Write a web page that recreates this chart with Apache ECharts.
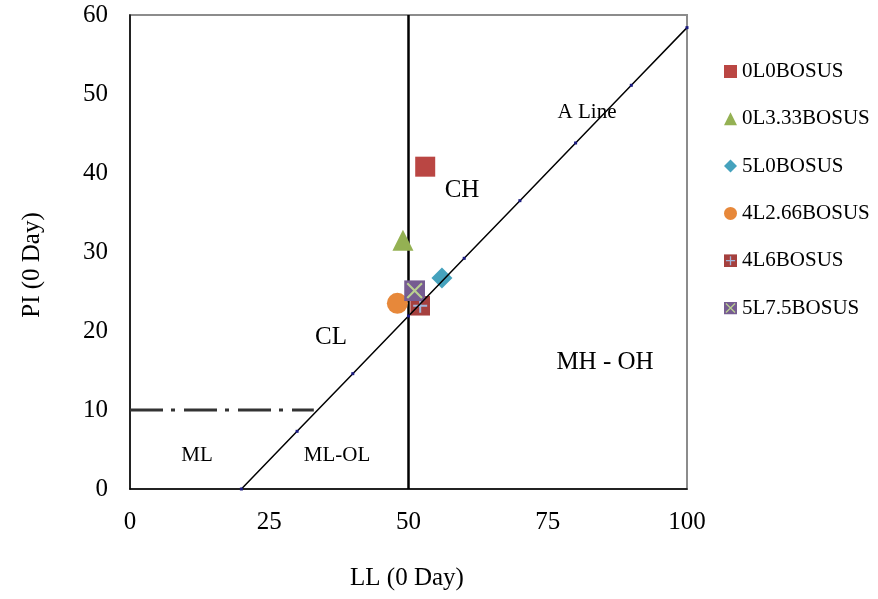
<!DOCTYPE html>
<html>
<head>
<meta charset="utf-8">
<script src="https://cdn.jsdelivr.net/npm/echarts@6/dist/echarts.min.js"></script>
<style>
html,body{margin:0;padding:0;background:#fff;}
#chart{width:878px;height:599px;}
</style>
</head>
<body>
<div id="chart"></div>
<script>
// ---- data ----
const seriesNames = ['0L0BOSUS','0L3.33BOSUS','5L0BOSUS','4L2.66BOSUS','4L6BOSUS','5L7.5BOSUS'];
const llValues = [53.0, 49.0, 56.0, 48.0, 52.1, 51.1];
const piValues = [40.8, 31.5, 26.7, 23.5, 23.2, 25.1];
const aLineLL = [20, 30, 40, 50, 60, 70, 80, 90, 100];
const aLinePI = [0, 7.3, 14.6, 21.9, 29.2, 36.5, 43.8, 51.1, 58.4];
const vLineLL = [50, 50];
const vLinePI = [0, 60];
const hLineLL = [0, 33];
const hLinePI = [10, 10];
const xTicks = [0, 25, 50, 75, 100];
const yTicks = [0, 10, 20, 30, 40, 50, 60];

// ---- styling ----
const FONT = '"Liberation Serif", "Times New Roman", serif';
function svgUri(svg){ return 'image://data:image/svg+xml;charset=utf-8,' + encodeURIComponent(svg); }
const plusSquare = svgUri("<svg xmlns='http://www.w3.org/2000/svg' width='40' height='40' viewBox='0 0 40 40'><rect x='0' y='0' width='40' height='40' fill='#A5403E'/><path d='M20 6V34M6 20H34' stroke='#A2B6DC' stroke-width='4'/></svg>");
const crossSquare = svgUri("<svg xmlns='http://www.w3.org/2000/svg' width='40' height='40' viewBox='0 0 40 40'><rect x='0' y='0' width='40' height='40' fill='#765C91'/><path d='M6 6L34 34M34 6L6 34' stroke='#B9CF90' stroke-width='4'/></svg>");
const markerStyles = [
  {symbol:'rect', size:20, color:'#BA4643'},
  {symbol:'triangle', size:21, color:'#94B153'},
  {symbol:'diamond', size:21, color:'#45A2BD'},
  {symbol:'circle', size:21, color:'#E7883A'},
  {symbol:plusSquare, size:20, color:'#A5403E'},
  {symbol:crossSquare, size:21, color:'#765C91'}
];

const pairs = (xs, ys) => xs.map((x, i) => [x, ys[i]]);

const series = [];
series.push({
  name:'vline', type:'line', data:pairs(vLineLL, vLinePI), showSymbol:false, silent:true,
  lineStyle:{color:'#000', width:2.5}, z:1, animation:false
});
series.push({
  name:'hline', type:'line', data:pairs(hLineLL, hLinePI), showSymbol:false, silent:true,
  lineStyle:{color:'#333', width:3, type:[33,8,4,9]}, z:1, animation:false
});
seriesNames.forEach((n, i) => {
  series.push({
    name:n, type:'scatter', data:[[llValues[i], piValues[i]]],
    symbol:markerStyles[i].symbol, symbolSize:markerStyles[i].size,
    itemStyle:{color:markerStyles[i].color, opacity:1}, z:3, animation:false
  });
});
series.push({
  name:'A Line', type:'line', data:pairs(aLineLL, aLinePI), showSymbol:true, symbol:'rect', symbolSize:3,
  itemStyle:{color:'#1A1A80'}, lineStyle:{color:'#000', width:1.5}, silent:true, z:5, animation:false
});

const textEl = (t, x, y, size, extra) => Object.assign({
  type:'text', x:x, y:y, z:10,
  style:{text:t, x:0, y:0, font:size + 'px ' + FONT, fill:'#000',
    align:'center', verticalAlign:'middle', textAlign:'center', textVerticalAlign:'middle'}
}, extra || {});

const chart = echarts.init(document.getElementById('chart'), null, {renderer:'canvas'});
chart.setOption({
  animation:false,
  backgroundColor:'#fff',
  grid:{left:130, right:191, top:15, bottom:110, show:true, borderColor:'#8C8C8C', borderWidth:2, backgroundColor:'transparent'},
  xAxis:{
    type:'value', min:0, max:100, interval:25,
    axisLine:{show:true, onZero:false, lineStyle:{color:'#000', width:1.5}},
    axisTick:{show:false}, splitLine:{show:false},
    axisLabel:{fontFamily:FONT, fontSize:25, color:'#000', margin:21,
      formatter:v => xTicks.includes(v) ? String(v) : ''}
  },
  yAxis:{
    type:'value', min:0, max:60, interval:10,
    axisLine:{show:true, onZero:false, lineStyle:{color:'#000', width:1.5}},
    axisTick:{show:false}, splitLine:{show:false},
    axisLabel:{fontFamily:FONT, fontSize:25, color:'#000', margin:22,
      formatter:v => yTicks.includes(v) ? String(v) : ''}
  },
  legend:{
    data:seriesNames, orient:'vertical', left:719, top:56,
    itemWidth:13, itemHeight:13, itemGap:26.3,
    textStyle:{fontFamily:FONT, fontSize:21, color:'#000', lineHeight:21},
    selectedMode:false
  },
  series:series,
  graphic:[
    textEl('A Line', 587, 112, 21),
    textEl('CH', 462, 190, 25),
    textEl('CL', 331, 337, 25),
    textEl('MH - OH', 605, 362, 25),
    textEl('ML', 197, 455, 21),
    textEl('ML-OL', 337, 455, 21),
    textEl('LL (0 Day)', 407, 578, 25),
    textEl('PI (0 Day)', 32, 265, 25, {rotation:Math.PI/2})
  ]
});
</script>
</body>
</html>
